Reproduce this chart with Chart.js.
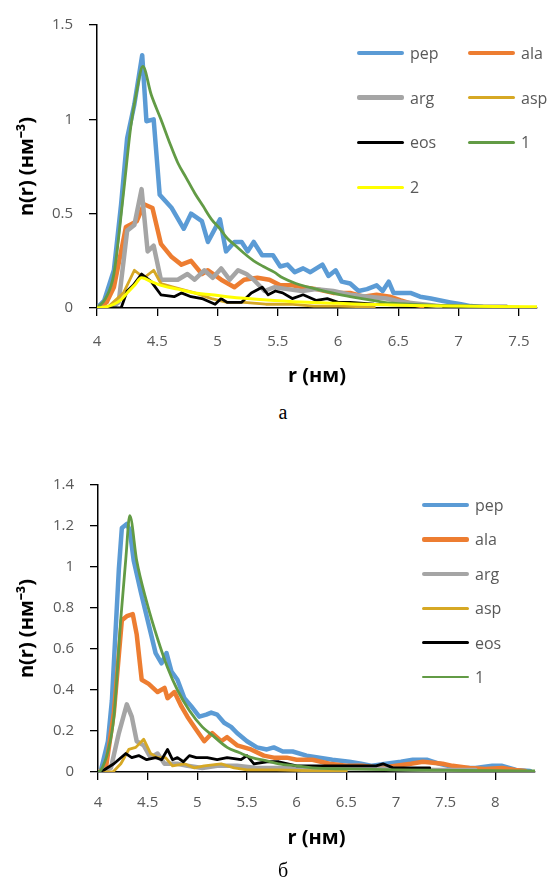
<!DOCTYPE html>
<html>
<head>
<meta charset="utf-8">
<script src="https://cdn.jsdelivr.net/npm/chart.js@4.4.1/dist/chart.umd.min.js"></script>
<style>
  body { margin: 0; background: #fff; width: 553px; height: 885px; position: relative; overflow: hidden; font-family: 'Open Sans', sans-serif; }
  canvas { position: absolute; left: 0; }
  #chartA { top: 0; }
  #chartB { top: 460px; }
  .legend-item { position: absolute; display: flex; align-items: center; height: 24px; color: #595959; font-size: 16px; white-space: nowrap; }
  .legend-item .swatch { display: inline-block; border-radius: 2px; margin-right: 6px; }
  .caption { position: absolute; font-family: 'Liberation Serif', serif; font-size: 20px; color: #000; transform: translate(-50%, -50%); }
</style>
</head>
<body>
<canvas id="chartA" width="553" height="400"></canvas>
<canvas id="chartB" width="553" height="400"></canvas>
<div id="legendA"></div>
<div id="legendB"></div>
<div class="caption" style="left:283px; top:412px;">а</div>
<div class="caption" style="left:283px; top:870px;">б</div>
<script>
// ---- данные: пары [r (нм), n(r)] ----
// график а
const pepA = [[4.0,0],[4.06,0.04],[4.14,0.2],[4.2,0.55],[4.25,0.9],[4.31,1.08],[4.375,1.34],[4.41,0.99],[4.47,1.0],[4.52,0.6],[4.62,0.53],[4.72,0.42],[4.78,0.5],[4.87,0.46],[4.92,0.35],[5.02,0.47],[5.07,0.3],[5.14,0.35],[5.2,0.35],[5.25,0.3],[5.3,0.35],[5.37,0.28],[5.46,0.28],[5.52,0.22],[5.58,0.23],[5.64,0.19],[5.71,0.21],[5.77,0.19],[5.87,0.23],[5.92,0.17],[5.98,0.2],[6.03,0.14],[6.1,0.13],[6.17,0.09],[6.24,0.1],[6.32,0.12],[6.37,0.09],[6.42,0.14],[6.46,0.08],[6.6,0.08],[6.68,0.06],[6.77,0.05],[6.85,0.04],[6.93,0.03],[7.02,0.02],[7.1,0.01],[7.2,0.005]];
const alaA = [[4.0,0],[4.08,0.03],[4.14,0.11],[4.2,0.3],[4.24,0.43],[4.33,0.46],[4.39,0.55],[4.46,0.53],[4.53,0.34],[4.62,0.27],[4.7,0.23],[4.78,0.25],[4.87,0.18],[4.92,0.2],[5.03,0.15],[5.14,0.11],[5.22,0.15],[5.33,0.16],[5.43,0.15],[5.52,0.12],[5.62,0.12],[5.71,0.11],[5.82,0.1],[5.96,0.08],[6.1,0.08],[6.21,0.06],[6.32,0.07],[6.43,0.06],[6.52,0.04],[6.62,0.02],[6.7,0.01]];
const argA = [[4.0,0],[4.12,0],[4.18,0.03],[4.25,0.41],[4.31,0.44],[4.37,0.63],[4.42,0.3],[4.47,0.33],[4.53,0.15],[4.58,0.15],[4.67,0.15],[4.75,0.18],[4.81,0.15],[4.89,0.2],[4.96,0.16],[5.03,0.21],[5.1,0.15],[5.17,0.2],[5.24,0.18],[5.3,0.15],[5.39,0.09],[5.47,0.11],[5.58,0.1],[5.7,0.09],[5.82,0.1],[5.96,0.09],[6.1,0.07],[6.25,0.06],[6.4,0.05],[6.55,0.03],[6.7,0.02],[6.85,0.01]];
const aspA = [[4.0,0],[4.1,0.01],[4.22,0.08],[4.31,0.2],[4.39,0.16],[4.47,0.2],[4.53,0.13],[4.64,0.11],[4.81,0.08],[4.95,0.05],[5.08,0.03],[5.22,0.03],[5.4,0.02],[5.6,0.02],[5.8,0.01],[6.0,0.01],[6.3,0.005]];
const eosA = [[4.0,0],[4.2,0],[4.25,0.09],[4.3,0.12],[4.37,0.18],[4.45,0.14],[4.53,0.07],[4.64,0.06],[4.7,0.08],[4.78,0.06],[4.87,0.05],[4.98,0.02],[5.03,0.05],[5.08,0.03],[5.2,0.03],[5.28,0.08],[5.37,0.11],[5.42,0.07],[5.48,0.09],[5.54,0.08],[5.62,0.05],[5.71,0.07],[5.82,0.04],[5.91,0.05],[6.0,0.03],[6.1,0.03],[6.3,0.02],[6.6,0.015],[7.0,0.01],[7.4,0.01]];
const model1A = [[4.0,0],[4.07,0.05],[4.14,0.18],[4.22,0.61],[4.28,0.96],[4.33,1.15],[4.38,1.28],[4.45,1.13],[4.53,1.0],[4.6,0.88],[4.67,0.77],[4.74,0.69],[4.81,0.61],[4.88,0.54],[4.95,0.47],[5.02,0.42],[5.08,0.37],[5.15,0.33],[5.22,0.29],[5.3,0.25],[5.38,0.22],[5.47,0.19],[5.54,0.16],[5.65,0.13],[5.82,0.1],[5.95,0.08],[6.1,0.06],[6.25,0.045],[6.38,0.03],[6.6,0.02],[6.9,0.012],[7.2,0.008],[7.5,0.005]];
const model2A = [[4.0,0],[4.07,0.005],[4.14,0.02],[4.2,0.045],[4.25,0.08],[4.31,0.12],[4.37,0.16],[4.45,0.14],[4.53,0.12],[4.67,0.1],[4.81,0.08],[4.95,0.07],[5.08,0.06],[5.25,0.05],[5.47,0.04],[5.75,0.03],[6.0,0.025],[6.3,0.018],[6.6,0.013],[7.0,0.01],[7.3,0.008],[7.65,0.006]];

// график б
const pepB = [[4.0,0],[4.03,0.01],[4.1,0.15],[4.14,0.35],[4.21,0.99],[4.24,1.19],[4.29,1.21],[4.32,1.18],[4.36,1.03],[4.43,0.88],[4.51,0.72],[4.58,0.58],[4.64,0.53],[4.69,0.58],[4.74,0.49],[4.8,0.45],[4.87,0.36],[4.94,0.32],[5.02,0.27],[5.09,0.28],[5.14,0.29],[5.2,0.28],[5.27,0.24],[5.34,0.22],[5.4,0.19],[5.5,0.15],[5.6,0.12],[5.7,0.11],[5.77,0.12],[5.86,0.1],[5.96,0.1],[6.1,0.08],[6.23,0.07],[6.36,0.06],[6.53,0.05],[6.65,0.04],[6.76,0.03],[6.9,0.04],[7.05,0.05],[7.17,0.06],[7.31,0.06],[7.44,0.04],[7.61,0.02],[7.8,0.02],[7.97,0.03],[8.07,0.03],[8.21,0.01],[8.35,0.005]];
const alaB = [[4.0,0],[4.08,0.02],[4.16,0.29],[4.24,0.74],[4.29,0.76],[4.35,0.77],[4.39,0.67],[4.44,0.45],[4.51,0.43],[4.6,0.39],[4.67,0.41],[4.7,0.36],[4.77,0.39],[4.84,0.32],[4.9,0.27],[4.97,0.22],[5.07,0.15],[5.15,0.19],[5.24,0.15],[5.3,0.17],[5.4,0.13],[5.54,0.11],[5.67,0.08],[5.77,0.07],[5.9,0.07],[6.0,0.06],[6.16,0.06],[6.33,0.04],[6.5,0.03],[6.66,0.03],[6.85,0.02],[7.0,0.03],[7.15,0.04],[7.27,0.05],[7.47,0.04],[7.57,0.03],[7.74,0.02],[7.9,0.015],[8.07,0.02],[8.2,0.01],[8.3,0.005]];
const argB = [[4.0,0],[4.13,0.02],[4.21,0.19],[4.29,0.33],[4.34,0.27],[4.39,0.15],[4.46,0.13],[4.53,0.07],[4.6,0.09],[4.67,0.04],[4.8,0.04],[4.9,0.03],[5.05,0.02],[5.2,0.03],[5.4,0.03],[5.6,0.02],[5.8,0.02],[6.0,0.02],[6.3,0.015],[6.6,0.02],[7.0,0.015],[7.4,0.01],[7.8,0.01]];
const aspB = [[4.0,0],[4.15,0],[4.23,0.04],[4.31,0.11],[4.38,0.12],[4.46,0.16],[4.53,0.09],[4.6,0.07],[4.68,0.07],[4.75,0.03],[4.87,0.04],[4.97,0.02],[5.07,0.03],[5.24,0.04],[5.37,0.02],[5.5,0.01],[5.8,0.01],[6.2,0.005],[6.5,0.005]];
const eosB = [[4.0,0],[4.06,0.01],[4.16,0.04],[4.28,0.09],[4.34,0.07],[4.41,0.08],[4.49,0.06],[4.58,0.07],[4.64,0.06],[4.7,0.11],[4.75,0.06],[4.8,0.07],[4.86,0.05],[4.92,0.08],[4.99,0.07],[5.1,0.07],[5.2,0.06],[5.3,0.07],[5.44,0.06],[5.5,0.08],[5.57,0.04],[5.7,0.05],[5.82,0.05],[6.0,0.03],[6.16,0.03],[6.36,0.03],[6.43,0.03],[6.6,0.03],[6.8,0.03],[6.87,0.04],[6.97,0.02],[7.17,0.02],[7.34,0.02]];
const model1B = [[4.0,0],[4.03,0.01],[4.1,0.1],[4.16,0.27],[4.23,0.75],[4.28,1.04],[4.32,1.25],[4.39,1.03],[4.49,0.83],[4.6,0.65],[4.7,0.51],[4.8,0.4],[4.92,0.3],[5.05,0.22],[5.15,0.18],[5.3,0.12],[5.42,0.095],[5.55,0.07],[5.69,0.055],[5.82,0.04],[6.0,0.03],[6.16,0.02],[6.5,0.015],[7.0,0.01],[7.5,0.008],[8.0,0.006],[8.4,0.005]];

// подписи серий и цвета
const seriesLabels = ['pep', 'ala', 'arg', 'asp', 'eos', '1', '2'];
const seriesColors = ['#5B9BD5', '#ED7D31', '#A5A5A5', '#D6A824', '#000000', '#629B45', '#FFFF00'];
const seriesWidths = [4.5, 4.5, 4.5, 2.8, 2.8, 2.8, 3];

const FONT = "'Open Sans', sans-serif";
const tickColor = '#595959';

/**
 * Собрать наборы данных для Chart.js
 */
function makeDatasets(seriesList) {
    return seriesList.map((pts, i) => ({
        label: seriesLabels[i],
        data: pts.map(([r, n]) => ({ x: r, y: n })),
        borderColor: seriesColors[i],
        backgroundColor: seriesColors[i],
        borderWidth: seriesWidths[i],
        pointRadius: 0,
        fill: false,
        tension: 0,
        cubicInterpolationMode: i >= 5 ? 'monotone' : 'default', // модельные кривые гладкие
        borderJoinStyle: 'round',
        borderCapStyle: 'round',
        order: -i // последняя серия поверх остальных
    }));
}

const fmt = v => String(+Number(v).toFixed(2));

/**
 * Оси в стиле Excel
 */
function makeScales(o) {
    return {
        x: {
            type: 'linear', min: 4, max: o.xMax,
            ticks: { stepSize: 0.5, includeBounds: false, color: tickColor, font: { family: FONT, size: 15 }, padding: o.xTickPad, maxRotation: 0, callback: fmt },
            grid: { drawOnChartArea: false, drawTicks: true, tickLength: 8, color: '#000', lineWidth: 1.3 },
            border: { display: true, color: '#000', width: 1.5 },
            title: { display: true, text: 'r (нм)', color: '#000', font: { family: FONT, size: 20, weight: 'bold' }, padding: { top: 0, bottom: o.xTitlePad } },
            afterFit: s => { s.height = o.xHeight; }
        },
        y: {
            type: 'linear', min: 0, max: o.yMax,
            ticks: { stepSize: o.yStep, color: tickColor, font: { family: FONT, size: 15 }, padding: 16, callback: fmt },
            grid: { drawOnChartArea: false, drawTicks: true, tickLength: 8, color: '#000', lineWidth: 1.3 },
            border: { display: true, color: '#000', width: 1.5 },
            title: { display: true, text: 'n(r) (нм⁻³)', color: '#000', font: { family: FONT, size: 20, weight: 'bold' }, padding: { top: 15, bottom: 0 } },
            afterFit: s => { s.width = o.yWidth; }
        }
    };
}

function makeChart(canvasId, seriesList, o) {
    const ctx = document.getElementById(canvasId).getContext('2d');
    return new Chart(ctx, {
        type: 'line',
        data: { datasets: makeDatasets(seriesList) },
        options: {
            responsive: false,
            animation: false,
            layout: { padding: { top: o.padTop, right: o.padRight, left: 0, bottom: 0 } },
            scales: makeScales(o),
            plugins: { legend: { display: false }, tooltip: { enabled: false } }
        }
    });
}

/**
 * HTML-легенда внутри области графика
 */
function renderLegend(containerId, chart, placeFn, lineLen) {
    const box = document.getElementById(containerId);
    chart.data.datasets.forEach((ds, i) => {
        const p = placeFn(i);
        const item = document.createElement('div');
        item.className = 'legend-item';
        item.style.left = p.left + 'px';
        item.style.top = (p.top - 12) + 'px';
        const sw = document.createElement('span');
        sw.className = 'swatch';
        sw.style.width = lineLen + 'px';
        sw.style.height = ds.borderWidth + 'px';
        sw.style.background = ds.borderColor;
        const txt = document.createElement('span');
        txt.textContent = ds.label;
        item.appendChild(sw);
        item.appendChild(txt);
        box.appendChild(item);
    });
}

const chartA = makeChart('chartA', [pepA, alaA, argA, aspA, eosA, model1A, model2A], {
    xMax: 7.65, yMax: 1.5, yStep: 0.5, padTop: 21, padRight: 16,
    xHeight: 92, yWidth: 97, xTickPad: 17, xTitlePad: 12
});
const chartB = makeChart('chartB', [pepB, alaB, argB, aspB, eosB, model1B], {
    xMax: 8.4, yMax: 1.4, yStep: 0.2, padTop: 23, padRight: 18,
    xHeight: 88, yWidth: 98, xTickPad: 14, xTitlePad: 10
});

// легенда а — две колонки, легенда б — одна колонка
renderLegend('legendA', chartA, i => ({ left: i % 2 ? 468 : 357, top: 53 + Math.floor(i / 2) * 44.7 }), 47);
renderLegend('legendB', chartB, i => ({ left: 422, top: 505 + i * 34.4 }), 47);
</script>
</body>
</html>
